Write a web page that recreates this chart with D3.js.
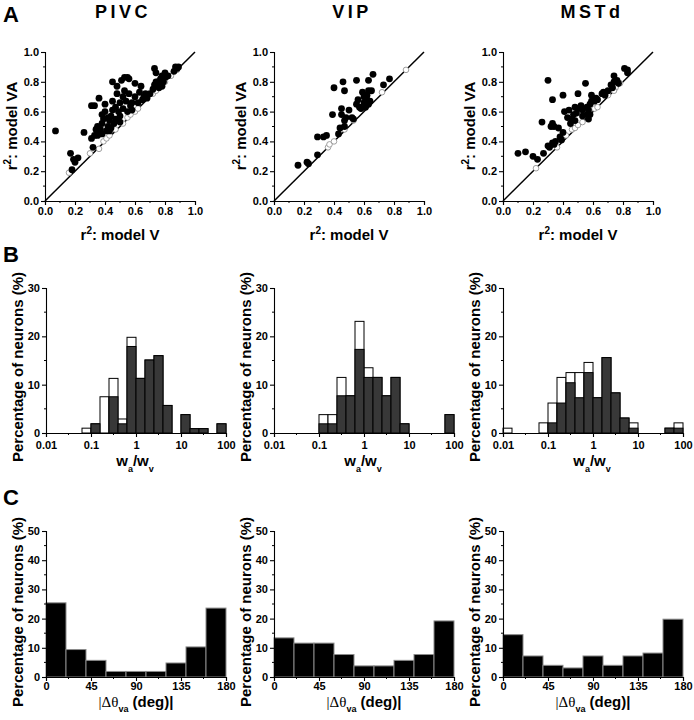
<!DOCTYPE html>
<html><head><meta charset="utf-8">
<script src="https://cdn.jsdelivr.net/npm/d3@7"></script>
<style>
body{margin:0;background:#fff;}
svg{display:block;font-family:"Liberation Sans",Arial,sans-serif;}
.tick text{font-weight:bold;font-size:11px;fill:#000;}
.domain,.tick line{stroke:#000;stroke-width:1.1px;}
</style></head>
<body>
<svg id="c" width="694" height="720"></svg>
<script>
// ---------------- DATA ----------------
const regions = ["PIVC", "VIP", "MSTd"];
const panelLetters = ["A", "B", "C"];

// Panel A: r^2 model V (x) vs r^2 model VA (y)
const pivcFilled = [[0.07,0.47],[0.17,0.32],[0.19,0.28],[0.2,0.26],[0.22,0.29],[0.18,0.21],[0.26,0.46],
 [0.31,0.64],[0.33,0.64],[0.36,0.69],[0.31,0.42],[0.32,0.36],[0.33,0.44],[0.34,0.48],[0.35,0.5],[0.36,0.46],
 [0.37,0.48],[0.38,0.52],[0.39,0.55],[0.38,0.58],[0.4,0.6],[0.41,0.47],[0.42,0.5],[0.42,0.56],[0.4,0.65],
 [0.43,0.54],[0.44,0.57],[0.45,0.61],[0.44,0.49],[0.46,0.52],[0.47,0.55],[0.45,0.67],[0.47,0.63],[0.48,0.72],
 [0.45,0.8],[0.48,0.77],[0.49,0.6],[0.5,0.53],[0.5,0.66],[0.52,0.7],[0.53,0.74],[0.51,0.81],[0.53,0.83],
 [0.55,0.83],[0.56,0.82],[0.52,0.62],[0.54,0.67],[0.55,0.6],[0.56,0.72],[0.58,0.66],[0.58,0.61],[0.6,0.7],
 [0.6,0.79],[0.62,0.66],[0.63,0.73],[0.64,0.77],[0.66,0.7],[0.67,0.72],[0.68,0.69],[0.7,0.72],[0.72,0.75],
 [0.73,0.89],[0.74,0.86],[0.73,0.78],[0.75,0.8],[0.76,0.79],[0.77,0.82],[0.78,0.84],[0.79,0.8],[0.8,0.83],
 [0.78,0.77],[0.76,0.76],[0.82,0.84],[0.8,0.86],[0.86,0.87],[0.87,0.9],[0.89,0.9],[0.88,0.89],[0.38,0.45],
 [0.43,0.47],[0.35,0.44],[0.5,0.57],[0.57,0.64],[0.65,0.68],[0.74,0.8],[0.77,0.8]];
const pivcOpen = [[0.16,0.19],[0.3,0.32],[0.36,0.35],[0.39,0.4],[0.41,0.42],[0.43,0.44],[0.47,0.48],
 [0.52,0.52],[0.55,0.56],[0.57,0.58],[0.6,0.6],[0.62,0.62],[0.72,0.72],[0.74,0.74],[0.8,0.8],[0.84,0.84],[0.88,0.88]];

const vipFilled = [[0.16,0.24],[0.22,0.26],[0.23,0.25],[0.29,0.31],[0.29,0.43],[0.33,0.43],[0.35,0.44],
 [0.39,0.58],[0.4,0.76],[0.46,0.8],[0.47,0.74],[0.43,0.45],[0.44,0.49],[0.45,0.62],[0.45,0.58],[0.47,0.54],
 [0.47,0.5],[0.48,0.56],[0.5,0.61],[0.52,0.56],[0.53,0.55],[0.55,0.81],[0.55,0.65],[0.56,0.68],[0.57,0.63],
 [0.58,0.62],[0.59,0.73],[0.6,0.7],[0.62,0.68],[0.63,0.74],[0.63,0.81],[0.65,0.74],[0.66,0.85],[0.61,0.63],
 [0.63,0.65],[0.64,0.67],[0.77,0.82],[0.73,0.78],[0.62,0.71],[0.6,0.66]];
const vipOpen = [[0.36,0.36],[0.37,0.38],[0.4,0.4],[0.47,0.48],[0.53,0.54],[0.72,0.73],[0.88,0.88]];

const mstdFilled = [[0.1,0.32],[0.15,0.33],[0.2,0.3],[0.23,0.28],[0.26,0.53],[0.27,0.32],[0.3,0.81],
 [0.33,0.68],[0.3,0.37],[0.31,0.36],[0.33,0.39],[0.34,0.38],[0.32,0.5],[0.33,0.52],[0.34,0.5],[0.37,0.49],
 [0.38,0.43],[0.39,0.41],[0.4,0.46],[0.4,0.71],[0.41,0.6],[0.43,0.56],[0.44,0.61],[0.46,0.55],[0.47,0.58],
 [0.48,0.54],[0.48,0.63],[0.5,0.62],[0.5,0.72],[0.52,0.64],[0.53,0.61],[0.55,0.79],[0.56,0.63],[0.57,0.61],
 [0.58,0.65],[0.59,0.67],[0.59,0.71],[0.61,0.67],[0.62,0.69],[0.63,0.68],[0.66,0.72],[0.67,0.73],[0.68,0.71],
 [0.7,0.74],[0.72,0.78],[0.74,0.8],[0.74,0.84],[0.73,0.76],[0.76,0.81],[0.77,0.79],[0.81,0.89],[0.83,0.88],
 [0.83,0.86],[0.56,0.58],[0.57,0.55],[0.58,0.58],[0.35,0.4],[0.45,0.52],[0.49,0.59],[0.53,0.57]];
const mstdOpen = [[0.22,0.22],[0.36,0.36],[0.42,0.44],[0.46,0.48],[0.48,0.49],[0.5,0.51],[0.53,0.53],
 [0.61,0.62],[0.63,0.63],[0.7,0.71],[0.75,0.76],[0.78,0.79],[0.74,0.74]];

// Panel B: histogram of wa/wv, log10 bin left edges (bin width 0.2 decade)
const weightBinEdges = [-2.0,-1.8,-1.6,-1.4,-1.2,-1.0,-0.8,-0.6,-0.4,-0.2,0,0.2,0.4,0.6,0.8,1.0,1.2,1.4,1.6,1.8];
const pivcWeightAll = [0,0,0,0,1.0,1.9,7.5,11.3,2.9,19.8,11.3,15.1,16.0,5.7,0,3.8,0.9,0.9,0,1.9];
const pivcWeightSig = [0,0,0,0,0,1.9,0,7.5,1.9,17.9,11.3,15.1,16.0,5.7,0,3.8,0.9,0.9,0,1.9];
const vipWeightAll  = [0,0,0,0,0,3.8,3.8,11.5,7.7,23.1,13.5,11.5,7.7,11.5,1.9,0,0,0,0,3.8];
const vipWeightSig  = [0,0,0,0,0,1.9,1.9,7.7,7.7,17.3,11.5,11.5,7.7,11.5,1.9,0,0,0,0,3.8];
const mstdWeightAll = [1.0,0,0,0,2.1,6.2,11.5,12.5,12.5,14.6,7.3,15.6,8.3,3.1,2.1,0,0,0,1.0,2.1];
const mstdWeightSig = [0,0,0,0,0,2.1,6.2,10.4,7.3,12.5,7.3,15.6,8.3,3.1,1.0,0,0,0,1.0,1.0];
const weightTicks = [0.01, 0.1, 1, 10, 100];
const weightTickLabels = ["0.01", "0.1", "1", "10", "100"];

// Panel C: histogram of |delta theta va|, 20 deg bins
const angleBinEdges = [0,20,40,60,80,100,120,140,160];
const pivcAngle = [25.4,9.4,5.7,1.9,1.9,1.9,4.8,10.3,23.6];
const vipAngle  = [13.4,11.6,11.6,7.7,3.8,3.8,5.7,7.7,19.2];
const mstdAngle = [14.5,7.2,4.0,3.1,7.2,4.0,7.2,8.2,19.8];
const angleTicks = [0,45,90,135,180];
const rTicks = [0,0.2,0.4,0.6,0.8,1.0];

const scatterFilled = [pivcFilled, vipFilled, mstdFilled];
const scatterOpen = [pivcOpen, vipOpen, mstdOpen];
const weightAll = [pivcWeightAll, vipWeightAll, mstdWeightAll];
const weightSig = [pivcWeightSig, vipWeightSig, mstdWeightSig];
const angleVals = [pivcAngle, vipAngle, mstdAngle];

// ---------------- LAYOUT ----------------
const svg = d3.select("#c");
const colX = [45, 274, 503];
const titleX = [123, 352, 592];

function minorTicks(g, scale, vals, orient, len){
  vals.forEach(v=>{
    const p = scale(v);
    if(orient==="left") g.append("line").attr("x1",0).attr("x2",-len).attr("y1",p).attr("y2",p).attr("stroke","#000").attr("stroke-width",1);
    else g.append("line").attr("y1",0).attr("y2",len).attr("x1",p).attr("x2",p).attr("stroke","#000").attr("stroke-width",1);
  });
}

function yLabel(x, y){
  return svg.append("text").attr("transform",`translate(${x},${y}) rotate(-90)`)
    .attr("text-anchor","middle").attr("font-weight","bold").attr("font-size","15px");
}

// panel letters
[[3,22,"A"],[3,262,"B"],[3,505,"C"]].forEach(d=>{
  svg.append("text").attr("x",d[0]).attr("y",d[1]).attr("font-size","22px").attr("font-weight","bold").text(d[2]);
});

// ---------- Panel A ----------
regions.forEach((r,i)=>{
  svg.append("text").attr("x",titleX[i]).attr("y",18).attr("text-anchor","middle")
    .attr("font-size","18px").attr("font-weight","bold").attr("letter-spacing","3.5px").text(r);
  const g = svg.append("g").attr("transform",`translate(${colX[i]},52)`);
  const w = 150, h = 149;
  const x = d3.scaleLinear().domain([0,1]).range([0,w]);
  const y = d3.scaleLinear().domain([0,1]).range([h,0]);
  g.append("g").attr("transform",`translate(0,${h})`).call(d3.axisBottom(x).tickValues(rTicks).tickFormat(d3.format(".1f")).tickSizeOuter(0).tickSize(4).tickPadding(2));
  g.append("g").call(d3.axisLeft(y).tickValues(rTicks).tickFormat(d3.format(".1f")).tickSizeOuter(0).tickSize(4).tickPadding(2));
  minorTicks(g.append("g"), y, [0.1,0.3,0.5,0.7,0.9], "left", 2);
  minorTicks(g.append("g").attr("transform",`translate(0,${h})`), x, [0.1,0.3,0.5,0.7,0.9], "bottom", 2);
  g.append("line").attr("x1",x(0)).attr("y1",y(0)).attr("x2",x(1)).attr("y2",y(1)).attr("stroke","#000").attr("stroke-width",1.5);
  g.selectAll("circle.o").data(scatterOpen[i]).enter().append("circle")
    .attr("cx",d=>x(d[0])).attr("cy",d=>y(d[1])).attr("r",2.8).attr("fill","#fff").attr("stroke","#888").attr("stroke-width",0.8);
  g.selectAll("circle.f").data(scatterFilled[i]).enter().append("circle")
    .attr("cx",d=>x(d[0])).attr("cy",d=>y(d[1])).attr("r",3.4).attr("fill","#000");
  const yl = yLabel(colX[i]-28, 126);
  yl.append("tspan").text("r");
  yl.append("tspan").attr("dy",-6).attr("font-size","10px").text("2");
  yl.append("tspan").attr("dy",6).text(": model VA");
  const xl = svg.append("text").attr("x",colX[i]+75).attr("y",240).attr("text-anchor","middle").attr("font-weight","bold").attr("font-size","15px");
  xl.append("tspan").text("r");
  xl.append("tspan").attr("dy",-6).attr("font-size","10px").text("2");
  xl.append("tspan").attr("dy",6).text(": model V");
});

// ---------- Panel B ----------
regions.forEach((r,i)=>{
  const left = colX[i] + (i===0?1:0);
  const g = svg.append("g").attr("transform",`translate(${left},288)`);
  const w = 180, h = 145;
  const x = d3.scaleLog().domain([0.01,100]).range([0,w]);
  const y = d3.scaleLinear().domain([0,30]).range([h,0]);
  const bins = weightBinEdges.map((e,k)=>({x0:Math.pow(10,e), x1:Math.pow(10,e+0.2), all:weightAll[i][k], sig:weightSig[i][k]}));
  g.selectAll("rect.all").data(bins.filter(d=>d.all>0)).enter().append("rect")
    .attr("x",d=>x(d.x0)).attr("width",d=>x(d.x1)-x(d.x0)).attr("y",d=>y(d.all)).attr("height",d=>y(0)-y(d.all))
    .attr("fill","#fff").attr("stroke","#000").attr("stroke-width",1);
  g.selectAll("rect.sig").data(bins.filter(d=>d.sig>0)).enter().append("rect")
    .attr("x",d=>x(d.x0)).attr("width",d=>x(d.x1)-x(d.x0)).attr("y",d=>y(d.sig)).attr("height",d=>y(0)-y(d.sig))
    .attr("fill","#383838").attr("stroke","#000").attr("stroke-width",1);
  g.append("g").attr("transform",`translate(0,${h})`).call(d3.axisBottom(x).tickValues(weightTicks).tickFormat((d,k)=>weightTickLabels[k]).tickSizeOuter(0).tickSize(4).tickPadding(4));
  g.append("g").call(d3.axisLeft(y).tickValues([0,10,20,30]).tickSizeOuter(0).tickSize(4).tickPadding(2));
  minorTicks(g.append("g"), y, [5,15,25], "left", 2);
  minorTicks(g.append("g").attr("transform",`translate(0,${h})`), x, [0.0316,0.316,3.16,31.6], "bottom", 2);
  yLabel(left-23, 367).text("Percentage of neurons (%)");
  const xl = svg.append("text").attr("x",left+89).attr("y",466).attr("text-anchor","middle").attr("font-weight","bold").attr("font-size","15px");
  xl.append("tspan").text("w");
  xl.append("tspan").attr("dy",6).attr("font-size","9px").text("a");
  xl.append("tspan").attr("dy",-6).text("/w");
  xl.append("tspan").attr("dy",6).attr("font-size","9px").text("v");
});

// ---------- Panel C ----------
regions.forEach((r,i)=>{
  const left = colX[i] + (i===0?1:0);
  const g = svg.append("g").attr("transform",`translate(${left},531)`);
  const w = 180, h = 146;
  const x = d3.scaleLinear().domain([0,180]).range([0,w]);
  const y = d3.scaleLinear().domain([0,50]).range([h,0]);
  const bins = angleBinEdges.map((e,k)=>({x0:e, x1:e+20, v:angleVals[i][k]}));
  g.selectAll("rect").data(bins).enter().append("rect")
    .attr("x",d=>x(d.x0)).attr("width",d=>x(d.x1)-x(d.x0)).attr("y",d=>y(d.v)).attr("height",d=>y(0)-y(d.v))
    .attr("fill","#000").attr("stroke","#8a8a8a").attr("stroke-width",1);
  g.append("g").attr("transform",`translate(0,${h})`).call(d3.axisBottom(x).tickValues(angleTicks).tickSizeOuter(0).tickSize(4).tickPadding(1));
  g.append("g").call(d3.axisLeft(y).tickValues([0,10,20,30,40,50]).tickSizeOuter(0).tickSize(4).tickPadding(2));
  minorTicks(g.append("g"), y, [5,15,25,35,45], "left", 2);
  minorTicks(g.append("g").attr("transform",`translate(0,${h})`), x, [22.5,67.5,112.5,157.5], "bottom", 2);
  yLabel(left-23, 612).text("Percentage of neurons (%)");
  const xl = svg.append("text").attr("x",left+90).attr("y",707).attr("text-anchor","middle").attr("font-weight","bold").attr("font-size","15px");
  xl.append("tspan").attr("font-family","Liberation Serif").attr("font-weight","normal").text("|Δθ");
  xl.append("tspan").attr("dy",5).attr("font-size","9px").text("va");
  xl.append("tspan").attr("dy",-5).text(" (deg)|");
});
</script>
</body></html>
